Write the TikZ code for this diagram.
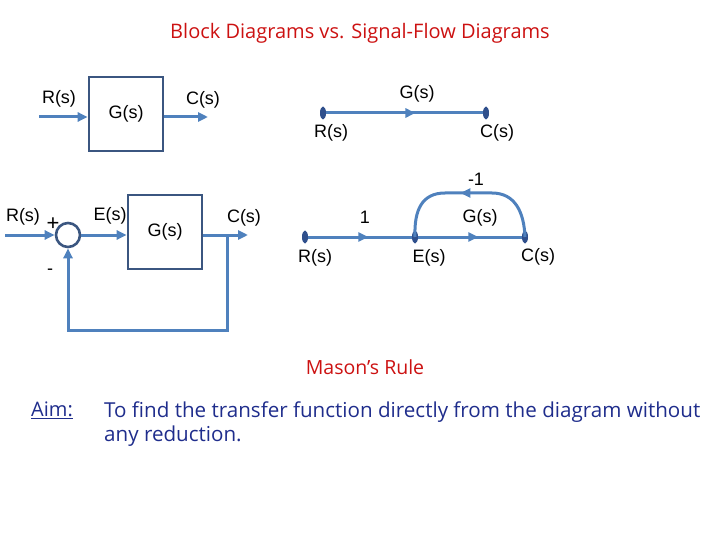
\documentclass[tikz,border=0pt]{standalone}
\usepackage{fontspec}
\setmainfont{Liberation Sans}
\newfontfamily\comicfont{Open Sans}
\usetikzlibrary{arrows.meta, positioning, shapes.geometric, decorations.markings}

\definecolor{lineblue}{RGB}{79,129,189}
\definecolor{boxblue}{RGB}{59,86,128}
\definecolor{nodeblue}{RGB}{47,79,140}
\definecolor{titlered}{RGB}{204,17,17}
\definecolor{navytext}{RGB}{31,45,140}

\begin{document}
\begin{tikzpicture}[x=1pt, y=-1pt, >={Triangle[length=10pt,width=9pt]},
    wire/.style={draw=lineblue, line width=3pt},
    block/.style={draw=boxblue, line width=2.6pt, fill=white, minimum width=74pt, minimum height=74pt, font=\fontsize{18}{20}\selectfont},
    sum node/.style={circle, draw=boxblue, line width=2.6pt, minimum size=24pt, inner sep=0pt},
    sig node/.style={ellipse, fill=nodeblue, minimum width=6pt, minimum height=13pt, inner sep=0pt},
    lbl/.style={font=\fontsize{18}{20}\selectfont, inner sep=0pt},
    comic/.style={font=\comicfont\fontsize{20}{24}\selectfont, inner sep=0pt},
    mid arrow/.style={postaction={decorate}, decoration={markings, mark=at position #1 with {\arrow{>}}}}]

    \useasboundingbox (0,0) rectangle (720,540);

    % Title
    \node[comic, text=titlered] (title) at (360,33) {Block Diagrams vs. Signal-Flow Diagrams};

    % Open-loop block diagram
    \node[block] (G1) at (126,114) {G(s)};
    \coordinate (in1) at (39,117);
    \coordinate (out1) at (208,117);
    \draw[wire,->] (in1) -- (in1 -| G1.west);
    \draw[wire,->] (out1 -| G1.east) -- (out1);
    \node[lbl] (R1) at (59,99) {R(s)};
    \node[lbl] (C1) at (203,100) {C(s)};

    % Open-loop signal-flow graph
    \node[sig node] (r1) at (323,113) {};
    \node[sig node] (c1) at (486,113) {};
    \draw[wire, mid arrow=0.57] (r1) -- (c1);
    \node[lbl] (g1) at (417,94) {G(s)};
    \node[lbl] (rl1) at (331,133) {R(s)};
    \node[lbl] (cl1) at (497,133) {C(s)};

    % Closed-loop block diagram
    \node[sum node] (sum) at (68,235) {};
    \node[block] (G2) at (165,232) {G(s)};
    \coordinate (in2) at (5,235);
    \coordinate (out2) at (248,235);
    \coordinate (fb) at (227,235);
    \draw[wire,->] (in2) -- (sum.west);
    \draw[wire,->] (sum.east) -- (sum.east -| G2.west);
    \draw[wire,->] (out2 -| G2.east) -- (out2);
    \draw[wire,->] (fb) -- ++(0,95) -| (sum.south);
    \node[lbl] (R2) at (23,217) {R(s)};
    \node[lbl, font=\fontsize{22}{22}\selectfont] (plus) at (53,224) {+};
    \node[lbl] (minus) at (50,272) {-};
    \node[lbl] (E2) at (110,216) {E(s)};
    \node[lbl] (C2) at (244,218) {C(s)};

    % Closed-loop signal-flow graph
    \node[sig node] (r2) at (305,237) {};
    \node[sig node] (e2) at (415,237) {};
    \node[sig node] (c2) at (525,237) {};
    \draw[wire, mid arrow=0.58] (r2) -- (e2);
    \draw[wire, mid arrow=0.58] (e2) -- (c2);
    \draw[wire, mid arrow=0.55] (c2.center) .. controls (524,212) and (515,193) .. (492,193)
        -- (445,193) .. controls (422,193) and (414,210) .. (e2.center);
    \node[lbl] (one) at (365,217) {1};
    \node[lbl] (g2) at (480,218) {G(s)};
    \node[lbl] (fbgain) at (476,179) {-1};
    \node[lbl] (rl2) at (315,258) {R(s)};
    \node[lbl] (el2) at (429,258) {E(s)};
    \node[lbl] (cl2) at (538,257) {C(s)};

    % Mason's rule text
    \node[comic, text=titlered, font=\comicfont\fontsize{19.5}{24}\selectfont] (mason) at (365,367) {Mason’s Rule};
    \node[comic, text=navytext] (aim) at (52,410) {\underline{Aim:}};
    \node[comic, text=navytext, font=\comicfont\fontsize{20.6}{24}\selectfont, anchor=north west, align=left] (goal) at (104,402)
        {To find the transfer function directly from the diagram without\\any reduction.};

\end{tikzpicture}
\end{document}
